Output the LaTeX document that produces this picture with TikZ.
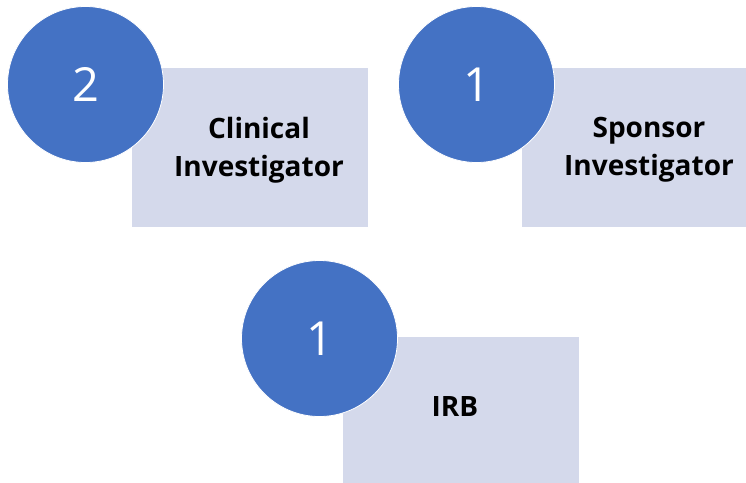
\documentclass[tikz,border=0pt]{standalone}
\usepackage{fontspec}
\setmainfont{Open Sans}
\definecolor{discblue}{HTML}{4472C4}
\definecolor{cardfill}{HTML}{D4D9EB}
\begin{document}
\begin{tikzpicture}[x=1pt,y=-1pt,
  card/.style={draw=none,fill=cardfill,rectangle,inner sep=0pt,anchor=north west},
  disc/.style={circle,fill=discblue,draw=white,line width=0.8pt,inner sep=0pt,
    minimum size=156pt,text=white,font=\fontsize{47}{50}\selectfont},
  role/.style={align=center,text=black,font=\fontsize{28}{38}\selectfont\bfseries}]
  \useasboundingbox (0,0) rectangle (746,482);
  % cards behind the numbered discs
  \node[card,minimum width=236pt,minimum height=159pt] (c1) at (132,68) {};
  \node[card,minimum width=236pt,minimum height=159pt] (c2) at (522,68) {};
  \node[card,minimum width=236pt,minimum height=159pt] (c3) at (343,337) {};
  % role names
  \node[role] (t1) at (259,150) {Clinical\\Investigator};
  \node[role] (t2) at (649,150) {Sponsor\\Investigator};
  \node[role] (t3) at (455,406) {IRB};
  % numbered discs
  \node[disc] (d1) at (85.5,84.5) {2};
  \node[disc] (d2) at (476.5,84.5) {1};
  \node[disc] (d3) at (319.5,338.5) {1};
\end{tikzpicture}
\end{document}
